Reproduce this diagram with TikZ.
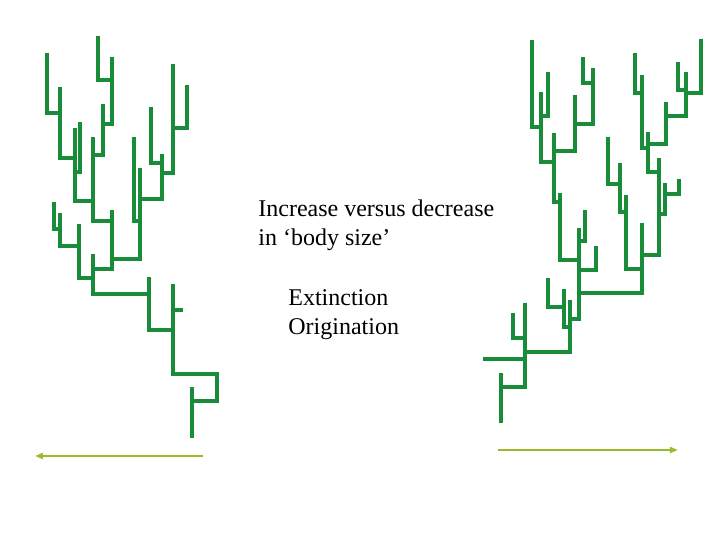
\documentclass[tikz,border=0pt]{standalone}
\usepackage{fontspec}
\setmainfont{Liberation Serif}
\usetikzlibrary{arrows.meta}
\definecolor{treegreen}{RGB}{24,140,56}
\definecolor{arrowlime}{RGB}{154,188,42}
\tikzset{
	branch/.style={draw=treegreen,line width=1.8pt},
	timeline/.style={draw=arrowlime,line width=1.1pt,-{Triangle[length=4pt,width=3pt]}},
	caption/.style={anchor=base west,inner sep=0pt,font=\fontsize{12}{15}\selectfont}
}

\begin{document}
\begin{tikzpicture}[x=0.5pt,y=-0.5pt]
						\useasboundingbox (0,0) rectangle (720,540);

						\draw[branch] (192,438) -- (192,387);
						\draw[branch] (192,401) -- (217,401) -- (217,374) -- (173,374) -- (173,284);
						\draw[branch] (173,310) -- (183,310);
						\draw[branch] (173,330) -- (149,330) -- (149,277);
						\draw[branch] (149,294) -- (93,294) -- (93,254);
						\draw[branch] (93,278) -- (79,278) -- (79,224);
						\draw[branch] (79,246) -- (60,246) -- (60,213);
						\draw[branch] (60,229) -- (54,229) -- (54,202);
						\draw[branch] (93,269) -- (112,269) -- (112,210);
						\draw[branch] (112,259) -- (140,259) -- (140,168);
						\draw[branch] (140,221) -- (134,221) -- (134,137);
						\draw[branch] (140,199) -- (162,199) -- (162,154);
						\draw[branch] (162,163) -- (151,163) -- (151,107);
						\draw[branch] (162,173) -- (173,173) -- (173,64);
						\draw[branch] (173,128) -- (187,128) -- (187,85);
						\draw[branch] (112,221) -- (93,221) -- (93,137);
						\draw[branch] (93,155) -- (103,155) -- (103,104);
						\draw[branch] (103,124) -- (112,124) -- (112,57);
						\draw[branch] (112,80) -- (98,80) -- (98,36);
						\draw[branch] (93,201) -- (75,201) -- (75,128);
						\draw[branch] (75,172) -- (80,172) -- (80,122);
						\draw[branch] (75,158) -- (60,158) -- (60,87);
						\draw[branch] (60,113) -- (47,113) -- (47,53);

						\draw[branch] (501,423) -- (501,373);
						\draw[branch] (501,387) -- (525,387) -- (525,303);
						\draw[branch] (525,359) -- (483,359);
						\draw[branch] (525,338) -- (513,338) -- (513,313);
						\draw[branch] (525,352) -- (570,352) -- (570,300);
						\draw[branch] (570,327) -- (564,327) -- (564,289);
						\draw[branch] (564,307) -- (548,307) -- (548,278);
						\draw[branch] (570,319) -- (579,319) -- (579,228);
						\draw[branch] (579,241) -- (585,241) -- (585,210);
						\draw[branch] (579,270) -- (596,270) -- (596,246);
						\draw[branch] (579,260) -- (560,260) -- (560,193);
						\draw[branch] (560,202) -- (554,202) -- (554,133);
						\draw[branch] (554,162) -- (541,162) -- (541,92);
						\draw[branch] (541,127) -- (532,127) -- (532,40);
						\draw[branch] (541,116) -- (548,116) -- (548,72);
						\draw[branch] (554,151) -- (575,151) -- (575,95);
						\draw[branch] (575,124) -- (593,124) -- (593,68);
						\draw[branch] (593,83) -- (583,83) -- (583,57);
						\draw[branch] (579,293) -- (642,293) -- (642,223);
						\draw[branch] (642,269) -- (626,269) -- (626,195);
						\draw[branch] (626,212) -- (620,212) -- (620,163);
						\draw[branch] (620,184) -- (608,184) -- (608,137);
						\draw[branch] (642,255) -- (659,255) -- (659,158);
						\draw[branch] (659,214) -- (665,214) -- (665,183);
						\draw[branch] (665,194) -- (679,194) -- (679,179);
						\draw[branch] (659,172) -- (648,172) -- (648,132);
						\draw[branch] (648,148) -- (642,148) -- (642,75);
						\draw[branch] (642,93) -- (635,93) -- (635,53);
						\draw[branch] (648,144) -- (666,144) -- (666,102);
						\draw[branch] (666,116) -- (686,116) -- (686,72);
						\draw[branch] (686,90) -- (678,90) -- (678,62);
						\draw[branch] (686,93) -- (701,93) -- (701,39);

						\coordinate (leftstart) at (203,456);
						\coordinate (leftend) at (35,456);
						\coordinate (rightstart) at (498,450);
						\coordinate (rightend) at (678,450);
						\draw[timeline] (leftstart) -- (leftend);
						\draw[timeline] (rightstart) -- (rightend);

						\node[caption] (size1) at (258,217) {Increase versus decrease};
						\node[caption] (size2) at (258,246) {in ‘body size’};
						\node[caption] (ext) at (288,306) {Extinction};
						\node[caption] (orig) at (288,335) {Origination};
					\end{tikzpicture}
\end{document}
